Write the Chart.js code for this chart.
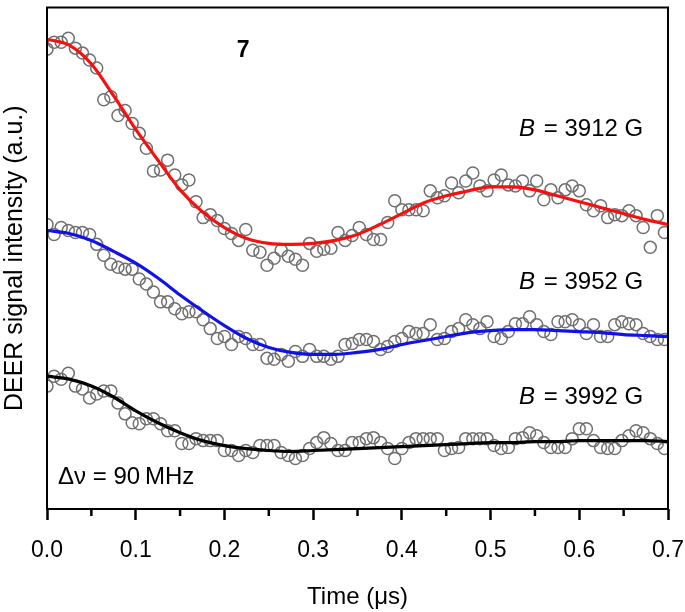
<!DOCTYPE html>
<html>
<head>
<meta charset="utf-8">
<script src="https://cdn.jsdelivr.net/npm/chart.js@4.4.1/dist/chart.umd.min.js"></script>
<style>
    html, body { margin: 0; padding: 0; background: #fff; }
    canvas { display: block; }
</style>
</head>
<body>
<canvas id="deerChart" width="685" height="612"></canvas>
<script>
// Time axis of the measured traces (us)
const times = [0, 0.008, 0.016, 0.024, 0.032, 0.04, 0.048, 0.056, 0.064, 0.072,
    0.08, 0.088, 0.096, 0.104, 0.112, 0.12, 0.128, 0.136, 0.144, 0.152,
    0.16, 0.168, 0.176, 0.184, 0.192, 0.2, 0.208, 0.216, 0.224, 0.232,
    0.24, 0.248, 0.256, 0.264, 0.272, 0.28, 0.288, 0.296, 0.304, 0.312,
    0.32, 0.328, 0.336, 0.344, 0.352, 0.36, 0.368, 0.376, 0.384, 0.392,
    0.4, 0.408, 0.416, 0.424, 0.432, 0.44, 0.448, 0.456, 0.464, 0.472,
    0.48, 0.488, 0.496, 0.504, 0.512, 0.52, 0.528, 0.536, 0.544, 0.552,
    0.56, 0.568, 0.576, 0.584, 0.592, 0.6, 0.608, 0.616, 0.624, 0.632,
    0.64, 0.648, 0.656, 0.664, 0.672, 0.68, 0.688, 0.696];

// Time axis of the fitted curves (us)
const fitTimes = [0, 0.025, 0.05, 0.075, 0.1, 0.125, 0.15, 0.175, 0.2, 0.225,
    0.25, 0.275, 0.3, 0.325, 0.35, 0.375, 0.4, 0.425, 0.45, 0.475,
    0.5, 0.525, 0.55, 0.575, 0.6, 0.625, 0.65, 0.675, 0.7];

// Measured DEER signal (a.u., traces offset vertically)
const data3912 = [464, 471, 471, 475, 465, 460, 453, 445, 413, 416,
    397, 402, 389, 379, 364, 341, 342, 352, 337, 327,
    332, 310, 294, 297, 291, 283, 278, 271, 282, 261,
    259, 246, 253, 261, 255, 252, 246, 268, 260, 262,
    263, 279, 271, 276, 284, 277, 272, 272, 289, 311,
    302, 302, 302, 301, 321, 314, 316, 329, 319, 331,
    339, 326, 321, 332, 337, 327, 326, 331, 321, 331,
    312, 322, 314, 322, 326, 321, 307, 301, 306, 294,
    297, 296, 301, 296, 284, 264, 296, 279];

const data3952 = [287, 277, 284, 281, 279, 279, 277, 267, 256, 247,
    244, 242, 242, 232, 227, 219, 209, 209, 202, 197,
    199, 199, 191, 182, 172, 174, 166, 174, 172, 166,
    166, 152, 151, 156, 149, 159, 154, 161, 154, 154,
    151, 154, 166, 167, 171, 171, 169, 161, 164, 169,
    172, 179, 177, 177, 186, 171, 172, 179, 182, 191,
    186, 182, 189, 174, 172, 179, 187, 187, 194, 186,
    179, 176, 189, 189, 191, 186, 177, 186, 174, 174,
    186, 189, 187, 186, 177, 174, 171, 171];

const data3992 = [124, 134, 131, 137, 124, 121, 112, 116, 119, 119,
    107, 96, 87, 86, 91, 91, 86, 79, 79, 66,
    66, 71, 69, 69, 69, 59, 59, 54, 59, 57,
    64, 64, 64, 57, 54, 51, 54, 61, 67, 72,
    66, 59, 59, 67, 67, 71, 72, 67, 61, 51,
    61, 67, 71, 71, 71, 71, 59, 61, 62, 71,
    71, 71, 71, 64, 61, 62, 71, 72, 77, 74,
    67, 62, 62, 62, 71, 81, 81, 69, 62, 61,
    61, 69, 74, 79, 77, 71, 66, 61];

// Fitted curves
const fit3912 = [474, 468, 449, 417, 383, 352, 322, 300, 284, 273,
    268, 267, 268, 271, 277, 287, 298, 309, 316, 321,
    325, 325, 322, 316, 310, 304, 298, 292, 287];

const fit3952 = [281, 278, 271, 260, 248, 233, 216, 200, 185, 172,
    163, 158, 156, 156, 158, 161, 166, 170, 174, 178,
    180, 181, 181, 180, 179, 178, 176, 175, 174];

const fit3992 = [134, 131, 124, 113, 99, 87, 77, 69, 64, 61,
    59, 58, 59, 60, 61, 62, 63, 64, 65, 66,
    67, 67, 68, 68, 69, 69, 69, 69, 68];

const xTicks = [0, 0.1, 0.2, 0.3, 0.4, 0.5, 0.6, 0.7];
const xMinorTicks = [0.05, 0.15, 0.25, 0.35, 0.45, 0.55, 0.65];

// Text labels: [field text, x, y] in data units
const fieldLabels = [
    ['3912', 0.672, 383],
    ['3952', 0.672, 229],
    ['3992', 0.672, 113]
];

const FONT = '"Liberation Sans", Arial, Helvetica, sans-serif';

function toPoints(xs, ys) {
    return xs.map((x, i) => ({ x: x, y: ys[i] }));
}

function scatterSet(values) {
    return {
        type: 'scatter',
        data: toPoints(times, values),
        pointStyle: 'circle',
        pointRadius: 6,
        pointBorderWidth: 1.5,
        pointBorderColor: '#707070',
        pointBackgroundColor: 'rgba(255,255,255,0)',
        showLine: false,
        clip: 0,
        order: 2
    };
}

function fitSet(values, color) {
    return {
        type: 'line',
        data: toPoints(fitTimes, values),
        borderColor: color,
        borderWidth: 3.2,
        pointRadius: 0,
        fill: false,
        cubicInterpolationMode: 'monotone',
        order: 1
    };
}

// frame, minor ticks and text labels
const decorPlugin = {
    id: 'decor',
    afterDraw(chart) {
        const ctx = chart.ctx;
        const area = chart.chartArea;
        const xs = chart.scales.x;
        const ys = chart.scales.y;
        ctx.save();

        ctx.strokeStyle = '#000';
        ctx.lineWidth = 2;
        ctx.strokeRect(area.left, area.top, area.right - area.left, area.bottom - area.top);

        ctx.lineWidth = 2.5;
        xMinorTicks.forEach(t => {
            const px = xs.getPixelForValue(t);
            ctx.beginPath();
            ctx.moveTo(px, area.bottom);
            ctx.lineTo(px, area.bottom + 7);
            ctx.stroke();
        });

        ctx.fillStyle = '#000';
        ctx.textBaseline = 'middle';

        fieldLabels.forEach(([val, x, y]) => {
            const right = xs.getPixelForValue(x);
            const py = ys.getPixelForValue(y);
            ctx.font = '24px ' + FONT;
            const rest = ' = ' + val + ' G';
            const restW = ctx.measureText(rest).width;
            ctx.textAlign = 'left';
            ctx.fillText(rest, right - restW, py);
            ctx.font = 'italic 24px ' + FONT;
            ctx.textAlign = 'right';
            ctx.fillText('B', right - restW - 2, py);
        });

        ctx.font = '24px ' + FONT;
        ctx.textAlign = 'left';
        ctx.fillText('\u0394\u03bd = 90\u2009MHz', xs.getPixelForValue(0.0124), ys.getPixelForValue(32));

        ctx.font = 'bold 23px ' + FONT;
        ctx.textAlign = 'center';
        ctx.fillText('7', xs.getPixelForValue(0.221), ys.getPixelForValue(462));

        ctx.restore();
    }
};

const ctx = document.getElementById('deerChart').getContext('2d');
new Chart(ctx, {
    data: {
        datasets: [
            scatterSet(data3912),
            scatterSet(data3952),
            scatterSet(data3992),
            fitSet(fit3912, '#f21212'),
            fitSet(fit3952, '#1212e6'),
            fitSet(fit3992, '#000000')
        ]
    },
    options: {
        responsive: false,
        animation: false,
        devicePixelRatio: 1,
        layout: {
            padding: { top: 3, right: 17, left: 0, bottom: 0 }
        },
        plugins: {
            legend: { display: false },
            tooltip: { enabled: false }
        },
        scales: {
            x: {
                type: 'linear',
                position: 'bottom',
                min: 0,
                max: 0.7,
                afterFit: function(scale) {
                    scale.height = 103;
                    scale.paddingLeft = 0;
                    scale.paddingRight = 0;
                },
                afterBuildTicks: function(scale) {
                    scale.ticks = xTicks.map(v => ({ value: v }));
                },
                ticks: {
                    color: '#000',
                    font: { family: FONT, size: 23 },
                    padding: 17,
                    callback: function(value) { return value.toFixed(1); }
                },
                grid: {
                    drawOnChartArea: false,
                    drawTicks: true,
                    tickLength: 11,
                    tickWidth: 2.5,
                    tickColor: '#000'
                },
                border: { display: false },
                title: {
                    display: true,
                    text: 'Time (\u03bcs)',
                    color: '#000',
                    font: { family: FONT, size: 24 },
                    padding: { top: 0, bottom: 0 }
                }
            },
            y: {
                type: 'linear',
                min: 0,
                max: 506,
                afterFit: function(scale) {
                    scale.width = 47;
                    scale.paddingTop = 0;
                    scale.paddingBottom = 0;
                },
                ticks: { display: false },
                grid: { display: false },
                border: { display: false },
                title: {
                    display: true,
                    text: 'DEER signal intensity (a.u.)',
                    color: '#000',
                    font: { family: FONT, size: 25 },
                    padding: { top: 0, bottom: 0 }
                }
            }
        }
    },
    plugins: [decorPlugin]
});
</script>
</body>
</html>
